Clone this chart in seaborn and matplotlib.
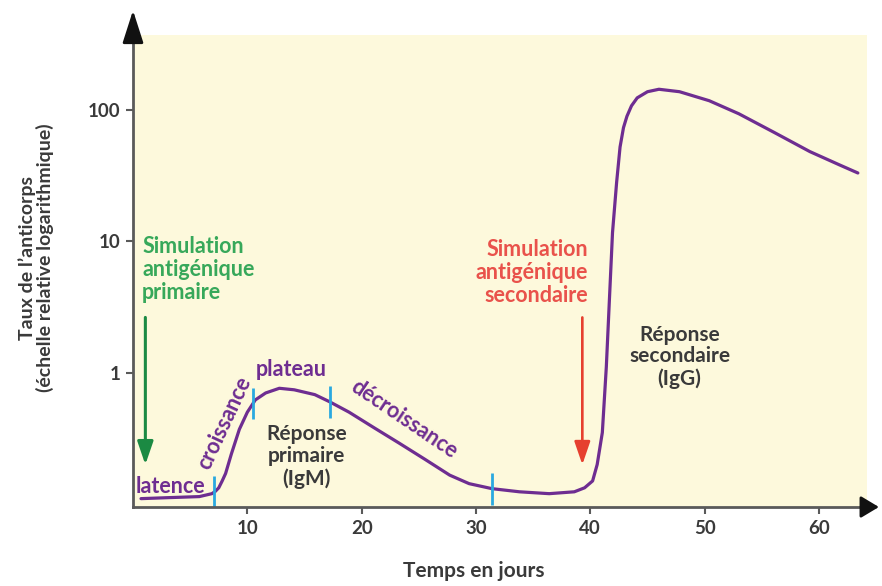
import numpy as np
import pandas as pd
import seaborn as sns
import matplotlib.pyplot as plt

# antibody level (days, relative log level)
days = [0.7, 3.2, 5.8, 6.9, 7.2, 7.5, 7.8, 8.1, 8.6, 9.3, 10.0, 10.7, 11.6,
        12.8, 14.1, 15.9, 17.2, 18.9, 21.1, 23.3, 25.5, 27.7, 29.4, 31.4,
        33.8, 36.4, 38.6, 39.5, 40.2, 40.6, 41.05, 41.4, 41.67, 41.94, 42.3,
        42.6, 42.9, 43.2, 43.6, 44.1, 45.0, 46.0, 47.8, 50.4, 53.0, 56.1,
        59.2, 61.8, 63.4]
level = [0.110, 0.112, 0.114, 0.120, 0.125, 0.133, 0.150, 0.171, 0.24, 0.37,
         0.50, 0.62, 0.70, 0.76, 0.74, 0.68, 0.60, 0.50, 0.38, 0.29, 0.22,
         0.166, 0.143, 0.131, 0.124, 0.120, 0.124, 0.133, 0.150, 0.20, 0.35,
         1.11, 3.6, 11.6, 28, 52, 73, 89, 107, 123, 137, 143, 137, 117, 93,
         67, 48, 38, 33]

phase_marks = [7.1, 10.5, 17.2, 31.4]   # cyan separators between phases
x_ticks = [10, 20, 30, 40, 50, 60]
y_ticks = [1, 10, 100]
y_ticklabels = ['1', '10', '100']

purple = '#6e2d91'
cyan = '#2aa9e0'
green_txt = '#37a85a'
green_arrow = '#1b8a43'
red_txt = '#e9524b'
red_arrow = '#e6402f'
dark = '#3a3a3a'
axis_col = '#5a5a5a'

sns.set_theme(style='ticks')
plt.rcParams['font.family'] = ['Lato', 'DejaVu Sans']
plt.rcParams['font.weight'] = 'bold'

df = pd.DataFrame({'jour': days, 'taux': level})

fig = plt.figure(figsize=(8.82, 5.86), dpi=100)
ax = fig.add_axes([0.1508, 0.1348, 0.8322, 0.8055])
ax.set_facecolor('#fdf9dc')

sns.lineplot(data=df, x='jour', y='taux', color=purple, linewidth=2.3, ax=ax)
ax.set_yscale('log')
ax.set_xlim(0, 64.2)
ax.set_ylim(0.095, 370)

# cyan phase separators, centred on the curve
log_lv = np.log10(level)
for d in phase_marks:
    c = 10 ** np.interp(d, days, log_lv)
    ax.plot([d, d], [c / 1.32, c * 1.32], color=cyan, lw=2.0, solid_capstyle='butt')

ax.set_xticks(x_ticks)
ax.set_yticks(y_ticks)
ax.set_yticklabels(y_ticklabels)
ax.minorticks_off()
ax.tick_params(axis='both', direction='out', length=5, width=1.5, color=axis_col,
               labelsize=13.5, labelcolor=dark, pad=4)
for lab in ax.get_xticklabels() + ax.get_yticklabels():
    lab.set_fontweight('bold')

for s in ['top', 'right']:
    ax.spines[s].set_visible(False)
for s in ['left', 'bottom']:
    ax.spines[s].set_color(axis_col)
    ax.spines[s].set_linewidth(2.0)

# arrowheads on the axes
ax.annotate('', xy=(0, 1.058), xytext=(0, 0.99), xycoords='axes fraction',
            arrowprops=dict(arrowstyle='-|>,head_length=1.0,head_width=0.32',
                            mutation_scale=20, color='#111111', lw=2.0),
            annotation_clip=False)
ax.annotate('', xy=(1.020, 0), xytext=(0.99, 0), xycoords='axes fraction',
            arrowprops=dict(arrowstyle='-|>,head_length=0.55,head_width=0.33',
                            mutation_scale=20, color='#111111', lw=2.0),
            annotation_clip=False)

ax.set_xlabel('Temps en jours', fontsize=15, fontweight='bold', color=dark)
ax.xaxis.set_label_coords(0.4646, -0.115)
ax.set_ylabel("Taux de l’anticorps\n(échelle relative logarithmique)",
              fontsize=14, fontweight='bold', color=dark, linespacing=1.0)
ax.yaxis.set_label_coords(-0.107, 0.5275)

# stimulation annotations
ax.text(0.8, 6.07, 'Simulation\nantigénique\nprimaire', color=green_txt,
        fontsize=15.5, fontweight='bold', ha='left', va='center', linespacing=1.12)
ax.annotate('', xy=(1.08, 0.19), xytext=(1.08, 2.76),
            arrowprops=dict(arrowstyle='-|>,head_length=0.7,head_width=0.24',
                            mutation_scale=20, color=green_arrow, lw=2.2))
ax.text(39.8, 5.76, 'Simulation\nantigénique\nsecondaire', color=red_txt,
        fontsize=15.5, fontweight='bold', ha='right', va='center', linespacing=1.12)
ax.annotate('', xy=(39.3, 0.19), xytext=(39.3, 2.76),
            arrowprops=dict(arrowstyle='-|>,head_length=0.7,head_width=0.24',
                            mutation_scale=20, color=red_arrow, lw=1.9))

# phase labels
ax.text(3.26, 0.136, 'latence', color=purple, fontsize=15.5, fontweight='bold',
        ha='center', va='center')
ax.text(8.0, 0.417, 'croissance', color=purple, fontsize=15.5, fontweight='bold',
        ha='center', va='center', rotation=65, rotation_mode='anchor')
ax.text(13.85, 1.05, 'plateau', color=purple, fontsize=15.5, fontweight='bold',
        ha='center', va='center')
ax.text(23.7, 0.44, 'décroissance', color=purple, fontsize=15.5, fontweight='bold',
        ha='center', va='center', rotation=-34, rotation_mode='anchor')

ax.text(15.2, 0.23, 'Réponse\nprimaire\n(IgM)', color=dark, fontsize=15,
        fontweight='bold', ha='center', va='center', linespacing=1.12)
ax.text(47.8, 1.32, 'Réponse\nsecondaire\n(IgG)', color=dark, fontsize=15,
        fontweight='bold', ha='center', va='center', linespacing=1.12)

fig.savefig('out.png', dpi=100, facecolor='white')
